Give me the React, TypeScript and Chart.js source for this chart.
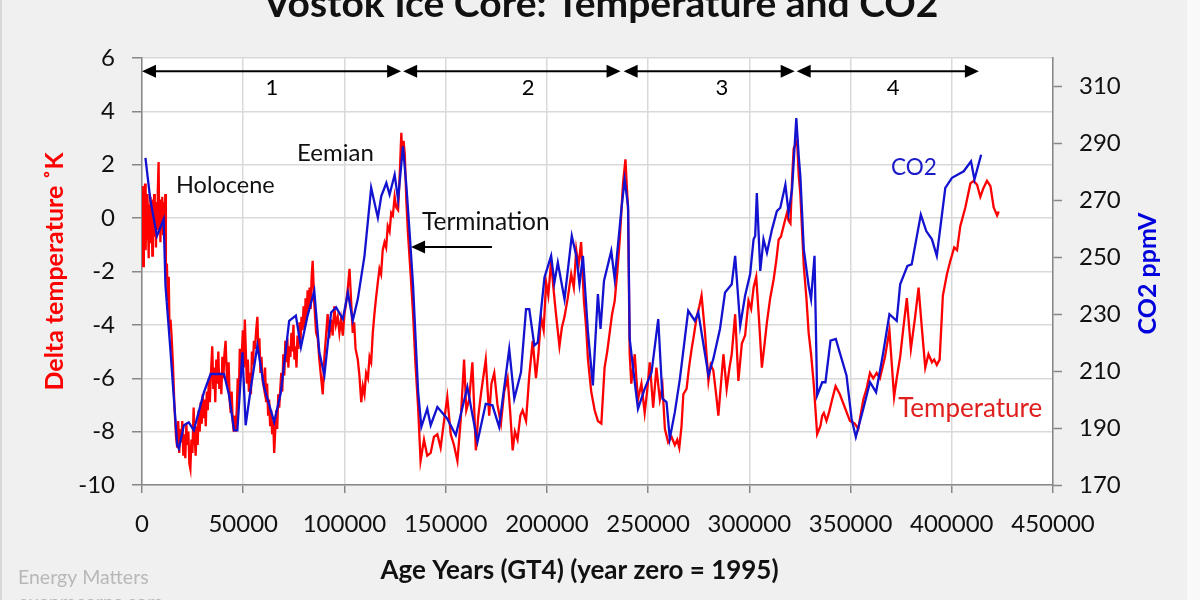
import React, { useEffect, useRef } from "react";
import { Chart, registerables } from "chart.js";

Chart.register(...registerables);

// ---------- text ----------
const chartTitle = "Vostok Ice Core: Temperature and CO2";
const xAxisTitle = "Age Years (GT4) (year zero = 1995)";
const leftAxisTitle = "Delta temperature ˚K";
const rightAxisTitle = "CO2 ppmV";
const watermarkLines = ["Energy Matters", "euanmearns.com"];

// ---------- axes ----------
const xMin = 0;
const xMax = 450000;
const xStep = 50000;
const tempMin = -10;
const tempMax = 6;
const tempStep = 2;
const co2Min = 170;
const co2Max = 320;
const co2TickValues = [170, 190, 210, 230, 250, 270, 290, 310];

// ---------- series: [age years, delta temperature K] ----------
const temperatureSeries: [number, number][] = [
  [0, -0.4], [300, 1.2], [600, -1.8], [900, 0.6], [1200, -0.5], [1500, 1.3], [1800, -1.2], [2100, 0.3],
  [2400, -0.8], [2700, 0.9], [3000, -0.3], [3300, -1.5], [3600, 0.5], [3900, -0.6], [4200, 0.8], [4500, -0.9],
  [4800, 0.2], [5100, -1.4], [5400, 0.7], [5700, -0.2], [6000, 0.9], [6300, -0.7], [6600, 0.4], [6900, -1.1],
  [7200, 0.6], [7500, -0.4], [7800, 1.0], [8200, 2.1], [8500, -0.3], [8800, 0.5], [9100, -0.9], [9400, 0.7],
  [9700, -0.2], [10000, 0.8], [10400, -0.6], [10800, 0.6], [11200, -0.8], [11500, 0.9], [11800, -2.1], [12300, -1.7],
  [12700, -3.1], [13200, -2.2], [13600, -4.2], [14100, -3.8], [14600, -4.4], [15300, -5.5], [16000, -7.0], [16800, -8.2],
  [17400, -8.6], [17900, -7.6], [18400, -8.8], [18900, -7.9], [19400, -8.4], [19900, -7.6], [20400, -8.9], [20900, -8.1],
  [21400, -9.0], [21900, -7.7], [22400, -8.5], [22900, -8.0], [23400, -9.2], [23900, -9.4], [24400, -8.3], [24900, -8.8],
  [25500, -7.1], [26000, -8.2], [26500, -8.9], [27000, -7.8], [27500, -8.5], [28000, -7.2], [28500, -8.0], [29000, -6.9],
  [29500, -7.7], [30000, -6.6], [30500, -7.5], [31000, -6.8], [31500, -7.8], [32000, -6.5], [32500, -7.2], [33000, -6.0],
  [33500, -6.9], [34000, -5.9], [34700, -4.8], [35200, -6.4], [35700, -5.6], [36200, -6.9], [36700, -5.3], [37200, -6.2],
  [37700, -5.0], [38200, -6.4], [38700, -5.8], [39200, -6.6], [39700, -5.2], [40200, -6.0], [40700, -5.1], [41300, -4.6],
  [41800, -5.7], [42300, -6.3], [42800, -5.4], [43300, -6.8], [43800, -7.3], [44300, -6.5], [44800, -7.6], [45300, -8.0],
  [45800, -7.4], [46300, -8.0], [46800, -7.2], [47300, -6.0], [47800, -6.8], [48300, -4.9], [48800, -6.0], [49300, -5.1],
  [49800, -4.2], [50300, -5.6], [50800, -3.8], [51300, -5.0], [51800, -6.2], [52300, -5.3], [52800, -6.5], [53300, -5.8],
  [53800, -6.6], [54300, -5.0], [54800, -5.5], [55300, -4.6], [55800, -4.9], [56400, -4.2], [57000, -3.7], [57500, -5.0],
  [58000, -4.5], [58500, -5.8], [59000, -5.2], [59600, -6.1], [60300, -6.4], [60800, -5.6], [61300, -6.9], [61800, -6.2],
  [62300, -7.4], [62800, -6.8], [63300, -7.8], [63800, -7.2], [64300, -8.1], [64800, -7.6], [65300, -8.8], [65800, -8.0],
  [66300, -7.2], [66800, -7.9], [67300, -6.6], [67800, -7.1], [68300, -6.4], [68800, -5.8], [69300, -6.5], [69800, -5.1],
  [70300, -5.9], [70800, -4.6], [71300, -5.4], [71800, -4.5], [72300, -5.6], [72800, -4.8], [73300, -5.2], [73800, -4.3],
  [74300, -5.0], [74800, -4.0], [75300, -5.3], [75800, -4.8], [76300, -5.6], [76800, -4.4], [77300, -4.9], [77800, -3.9],
  [78300, -4.6], [78800, -3.7], [79300, -4.2], [79800, -3.3], [80300, -4.1], [80800, -3.0], [81300, -3.8], [81800, -2.7],
  [82300, -3.5], [82800, -2.6], [83300, -3.4], [83800, -2.2], [84300, -1.6], [85100, -3.2], [86000, -4.3], [86800, -4.5],
  [87600, -5.3], [88500, -6.0], [89300, -6.6], [90100, -5.2], [90900, -4.4], [91700, -3.6], [92500, -4.5], [93400, -3.8],
  [94200, -4.4], [95000, -3.3], [95800, -4.0], [96700, -3.7], [97500, -4.3], [98300, -3.8], [99200, -4.4], [100000, -3.6],
  [100800, -3.2], [101700, -2.6], [102500, -1.9], [103300, -3.1], [104100, -4.3], [104800, -3.9], [105500, -4.9], [106600, -5.3],
  [107400, -5.9], [108300, -6.9], [109100, -6.3], [109900, -6.6], [110700, -5.8], [111600, -6.0], [112400, -5.2], [113200, -5.4],
  [114000, -4.3], [114800, -3.6], [115600, -3.0], [116500, -2.4], [117300, -1.9], [118100, -2.1], [118900, -1.2], [119800, -0.9],
  [120600, -1.1], [121400, -0.3], [122300, -0.5], [123100, 0.2], [123900, 0.1], [124800, 0.8], [125600, 0.4], [126500, 0.3],
  [127300, 1.6], [128100, 3.2], [128600, 2.2], [129200, 2.9], [129800, 2.4], [130600, 0.6], [131400, -0.6], [132600, -2.0],
  [133900, -3.6], [135100, -5.5], [136400, -7.1], [137600, -9.1], [139300, -8.3], [140900, -8.9], [142600, -8.8], [144200, -8.2],
  [145900, -8.1], [147500, -8.6], [149200, -7.6], [150800, -6.7], [152500, -8.1], [154100, -8.5], [155800, -9.1], [157400, -7.6],
  [159100, -5.3], [160200, -7.2], [161600, -6.8], [163200, -5.4], [164900, -8.7], [166000, -7.5], [167400, -6.6], [169800, -5.3],
  [171500, -7.4], [172600, -6.2], [174000, -5.8], [175600, -7.0], [177300, -7.7], [178900, -6.5], [180600, -6.0], [181900, -7.3],
  [183100, -8.7], [184200, -8.0], [185500, -8.3], [186900, -7.4], [188000, -7.2], [189700, -7.6], [191300, -5.9], [193000, -4.6],
  [194600, -6.0], [195800, -5.1], [197100, -3.7], [198400, -4.2], [199600, -2.4], [200700, -2.9], [202100, -1.6], [203200, -2.6],
  [204500, -3.6], [206200, -4.8], [207400, -4.1], [208700, -3.7], [210300, -3.0], [212000, -2.1], [213300, -2.6], [214500, -1.2],
  [215600, -1.8], [216900, -0.9], [218300, -3.1], [219400, -4.1], [220300, -5.3], [221900, -6.5], [223600, -7.2], [225200, -7.6],
  [226900, -7.7], [228500, -5.6], [229800, -5.0], [231000, -4.3], [232200, -3.6], [233500, -3.1], [234800, -2.0], [236000, -0.8],
  [237600, 1.3], [238800, 2.2], [240100, 0.3], [240900, -5.1], [241700, -6.2], [243400, -5.1], [244200, -6.0], [245000, -6.8],
  [246700, -6.2], [248300, -7.3], [249500, -6.5], [250800, -5.4], [252500, -7.1], [254100, -5.6], [255800, -6.8], [257100, -6.3],
  [258300, -7.9], [259900, -8.4], [261600, -8.2], [263200, -8.5], [264400, -8.3], [265400, -8.6], [266500, -7.8], [267400, -6.6],
  [269000, -6.4], [270200, -5.6], [271500, -4.9], [272600, -4.4], [274000, -3.7], [275300, -3.3], [276400, -2.9], [278100, -4.3],
  [279800, -6.1], [280900, -5.5], [282200, -5.7], [283600, -6.6], [284700, -7.4], [286000, -6.2], [287200, -5.1], [288800, -6.4],
  [290200, -5.6], [291300, -5.1], [293000, -3.6], [294600, -6.1], [296300, -4.7], [297900, -4.4], [299600, -3.1], [300900, -3.4],
  [302100, -2.6], [303400, -2.2], [304700, -3.7], [306200, -5.6], [307400, -4.8], [308700, -3.9], [310300, -3.0], [312000, -2.3],
  [313300, -1.6], [314500, -0.8], [315600, -0.7], [316900, -0.3], [318600, 0.2], [319400, -0.1], [320300, -0.2], [321100, 1.4],
  [321900, 2.6], [323600, 2.9], [324400, 1.6], [325200, 0.9], [326900, -1.8], [328200, -3.0], [329300, -4.3], [330500, -5.1],
  [331800, -6.2], [333500, -8.1], [335100, -7.8], [336000, -7.4], [336800, -7.3], [338100, -7.6], [339300, -7.3], [340900, -6.8],
  [342600, -6.3], [344700, -6.6], [347200, -7.1], [349700, -7.6], [352100, -7.7], [353800, -7.9], [356300, -6.8], [357900, -6.4],
  [359600, -5.8], [361200, -6.0], [362900, -5.8], [364500, -6.0], [367000, -5.2], [369200, -4.2], [371500, -6.7], [372800, -6.0],
  [374500, -5.2], [376100, -4.1], [377800, -3.0], [379800, -4.9], [381900, -3.7], [383600, -2.6], [385200, -4.1], [386900, -5.6],
  [388500, -5.1], [390200, -5.4], [391300, -5.3], [392600, -5.5], [394000, -5.3], [395600, -2.9], [397600, -2.1], [399300, -1.6],
  [401200, -1.1], [402600, -1.2], [404200, -0.3], [406700, 0.4], [409200, 1.3], [410800, 1.4], [412500, 1.25], [414100, 0.8],
  [415500, 1.1], [417400, 1.4], [419100, 1.2], [420700, 0.4], [422400, 0.1], [423200, 0.25],
];

// ---------- series: [age years, CO2 ppmV] ----------
const co2Series: [number, number][] = [
  [1700, 284.9], [4100, 270.3], [7400, 257.5], [10700, 263.3], [11600, 240], [14000, 217.8], [17400, 184], [18200, 182.8],
  [20700, 191], [23100, 192], [25600, 189.2], [30600, 202.6], [33900, 209], [40500, 209], [43000, 201.5], [45500, 189.2],
  [47100, 189.2], [49600, 216.6], [51200, 191], [53700, 203.8], [57000, 219], [60300, 204.4], [65300, 192.1], [68600, 202.6],
  [72700, 227.7], [76000, 229.5], [78500, 218.4], [81800, 229.5], [85100, 238.2], [87600, 216.6], [90100, 208.5], [93400, 230.6],
  [95900, 232.4], [99200, 228.3], [101700, 237.6], [104100, 227.7], [106600, 235.3], [109900, 250.5], [113200, 274.4], [116500, 263.9],
  [118200, 271.5], [120700, 276.1], [122300, 272], [124800, 279], [126500, 270.3], [128900, 289], [130600, 275], [132200, 258.6],
  [133900, 240], [136400, 202.6], [138000, 190.4], [140900, 196.8], [142600, 191], [145900, 197.4], [150800, 193.3], [155000, 187.5],
  [160700, 204.4], [165700, 185.1], [169800, 198.5], [173100, 198], [176400, 190.4], [181400, 217.8], [183900, 200.3], [187200, 209.6],
  [189700, 231.8], [191300, 231.8], [193800, 219], [195500, 220.1], [198800, 242.9], [202100, 250.5], [203700, 241.1], [205400, 248.1],
  [208700, 235.3], [212300, 257.5], [214500, 250.5], [216100, 240.5], [217800, 250.5], [220300, 223.6], [222700, 205], [225200, 237.1],
  [226500, 224.8], [228200, 241.7], [231800, 252.2], [233500, 242.3], [236800, 266.8], [238400, 277.3], [240100, 268], [240900, 221.3],
  [243400, 206.1], [245000, 196.8], [248300, 203.8], [251700, 209.6], [255000, 228.3], [257100, 200.3], [259100, 199.1], [260700, 186.3],
  [263200, 195.6], [265700, 207.3], [269800, 231.2], [273100, 227.7], [274800, 230.6], [279800, 208.5], [282200, 214.3], [285500, 224.8],
  [288000, 237.6], [291300, 240.5], [293000, 250.5], [295500, 226], [297900, 236.5], [300400, 244.1], [302100, 256.3], [302900, 257.5],
  [303700, 272.6], [305400, 245.2], [307000, 256.3], [308700, 251.6], [311200, 259.8], [313600, 266.2], [315300, 267.4], [317800, 275.5],
  [319400, 265.6], [321100, 273.8], [323200, 298.9], [324400, 285.5], [325200, 278.5], [326900, 252.8], [329300, 240], [330500, 235.3],
  [332200, 250.5], [333500, 201.5], [336000, 206.1], [337600, 206.1], [340100, 220.7], [342700, 221.3], [348000, 208.5], [350500, 193.3],
  [352600, 186.9], [356300, 196.8], [359600, 206.1], [362600, 202.6], [365900, 215.5], [369200, 230], [372800, 227.7], [374500, 240.5],
  [378100, 247], [380200, 247.5], [384700, 265], [387400, 259.2], [390200, 256.3], [392600, 250.5], [396800, 274.4], [400100, 277.9],
  [405900, 280.2], [409500, 283.7], [411200, 277.3], [414500, 286],
];

// ---------- annotations (data units) ----------
const periodNames = ["1", "2", "3", "4"];
const periodStartYears = [0, 129000, 237900, 323400];
const periodEndYears = [128000, 236400, 322400, 413400];
const periodLabelYears = [64200, 190700, 286500, 371000];
const periodArrowTemp = 5.5;
const periodLabelTemp = 4.88;

const noteTexts = ["Holocene", "Eemian", "Termination", "CO2", "Temperature"];
const noteYears = [16800, 76600, 138300, 370000, 373500];
const noteTemps = [1.24, 2.44, -0.14, 1.88, -7.15];
const terminationArrowYears = [172900, 132900];
const terminationArrowTemp = -1.08;

// ---------- styles ----------
const FONT = "Lato, 'Open Sans', sans-serif";
const RED = "#ff0000";
const BLUE = "#1212d0";
const TEXT = "#111111";
const AXIS_GREY = "#878787";
const GRID_GREY = "#d9d9d9";
const noteColors = [TEXT, TEXT, TEXT, "#1a1ac8", "#e0201e"];
const noteSizes = [23.5, 24, 24.5, 22.5, 26];

function arrowHead(ctx: CanvasRenderingContext2D, x: number, y: number, dir: number) {
  ctx.beginPath();
  ctx.moveTo(x, y);
  ctx.lineTo(x - dir * 14, y - 6.5);
  ctx.lineTo(x - dir * 14, y + 6.5);
  ctx.closePath();
  ctx.fill();
}

const decorPlugin = {
  id: "decor",
  beforeDraw(chart: any) {
    const { ctx, chartArea: a, width, height } = chart;
    ctx.save();
    ctx.fillStyle = "#f0f0f0";
    ctx.fillRect(0, 0, width, height);
    ctx.fillStyle = "#d8d8d8";
    ctx.fillRect(0, 0, 2, height);
    ctx.fillStyle = "#f9f9f9";
    ctx.fillRect(width - 13, 0, 13, height);
    ctx.fillStyle = "#ffffff";
    ctx.fillRect(a.left, a.top, a.right - a.left, a.bottom - a.top);
    ctx.restore();
  },
  afterDraw(chart: any) {
    const { ctx, width } = chart;
    const xs = chart.scales.x;
    const ys = chart.scales.y;
    const y2 = chart.scales.y2;
    ctx.save();

    // title
    ctx.fillStyle = TEXT;
    ctx.font = `bold 39px ${FONT}`;
    ctx.textAlign = "center";
    ctx.textBaseline = "alphabetic";
    ctx.fillText(chartTitle, width / 2 + 1, 17);

    // x axis title
    ctx.font = `bold 26px ${FONT}`;
    ctx.textBaseline = "middle";
    ctx.fillText(xAxisTitle, (xs.left + xs.right) / 2 - 18, 571);

    // period arrows
    ctx.strokeStyle = "#000";
    ctx.fillStyle = "#000";
    ctx.lineWidth = 2;
    const ay = ys.getPixelForValue(periodArrowTemp);
    periodStartYears.forEach((s, i) => {
      const x0 = xs.getPixelForValue(s);
      const x1 = xs.getPixelForValue(periodEndYears[i]);
      ctx.beginPath();
      ctx.moveTo(x0 + 8, ay);
      ctx.lineTo(x1 - 8, ay);
      ctx.stroke();
      arrowHead(ctx, x0, ay, -1);
      arrowHead(ctx, x1, ay, 1);
    });
    ctx.font = `22px ${FONT}`;
    ctx.textAlign = "center";
    ctx.textBaseline = "middle";
    periodNames.forEach((n, i) => {
      ctx.fillText(n, xs.getPixelForValue(periodLabelYears[i]), ys.getPixelForValue(periodLabelTemp));
    });

    // notes
    ctx.textAlign = "left";
    noteTexts.forEach((t, i) => {
      ctx.fillStyle = noteColors[i];
      ctx.font = `${noteSizes[i]}px ${FONT}`;
      ctx.fillText(t, xs.getPixelForValue(noteYears[i]), ys.getPixelForValue(noteTemps[i]));
    });

    // termination arrow
    const ty = ys.getPixelForValue(terminationArrowTemp);
    const tx0 = xs.getPixelForValue(terminationArrowYears[0]);
    const tx1 = xs.getPixelForValue(terminationArrowYears[1]);
    ctx.fillStyle = "#000";
    ctx.beginPath();
    ctx.moveTo(tx0, ty);
    ctx.lineTo(tx1 + 8, ty);
    ctx.stroke();
    arrowHead(ctx, tx1, ty, -1);

    // right axis title
    ctx.save();
    ctx.translate(y2.right - 52, (ys.top + ys.bottom) / 2 + 2);
    ctx.rotate(-Math.PI / 2);
    ctx.fillStyle = "#0000dd";
    ctx.font = `bold 25px ${FONT}`;
    ctx.textAlign = "center";
    ctx.textBaseline = "middle";
    ctx.fillText(rightAxisTitle, 0, 0);
    ctx.restore();

    // watermark
    ctx.fillStyle = "#b8b8b8";
    ctx.font = `19.5px ${FONT}`;
    ctx.textAlign = "left";
    ctx.textBaseline = "middle";
    ctx.fillText(watermarkLines[0], 18, 578);
    ctx.textBaseline = "top";
    ctx.fillText(watermarkLines[1], 18, 593);

    ctx.restore();
  },
};

const tickFont = { family: FONT, size: 24 };

export default function App() {
  const ref = useRef<HTMLCanvasElement>(null);
  useEffect(() => {
    if (!ref.current) return;
    const chart = new Chart(ref.current, {
      type: "line",
      data: {
        datasets: [
          {
            label: "CO2",
            data: co2Series.map(([x, y]) => ({ x, y })),
            yAxisID: "y2",
            borderColor: BLUE,
            borderWidth: 2.3,
            pointRadius: 0,
            tension: 0,
            order: 0,
          },
          {
            label: "Temperature",
            data: temperatureSeries.map(([x, y]) => ({ x, y })),
            yAxisID: "y",
            borderColor: RED,
            borderWidth: 2.3,
            pointRadius: 0,
            tension: 0,
            order: 1,
          },
        ],
      },
      options: {
        animation: false,
        responsive: false,
        layout: { padding: { top: 58, left: 0, right: 0, bottom: 0 } },
        plugins: { legend: { display: false }, tooltip: { enabled: false }, title: { display: false } },
        scales: {
          x: {
            type: "linear",
            position: "bottom",
            min: xMin,
            max: xMax,
            ticks: {
              stepSize: xStep,
              autoSkip: false,
              maxRotation: 0,
              padding: 17,
              color: TEXT,
              font: tickFont,
              callback: (v: any) => String(v),
            },
            grid: { color: GRID_GREY, lineWidth: 1.5, tickLength: 8, tickColor: AXIS_GREY, tickWidth: 1.5 },
            border: { color: AXIS_GREY, width: 1.5 },
            title: { display: false },
            afterFit: (s: any) => {
              s.height = 115;
            },
          },
          y: {
            position: "left",
            min: tempMin,
            max: tempMax,
            ticks: { stepSize: tempStep, padding: 17, color: TEXT, font: tickFont },
            grid: { color: GRID_GREY, lineWidth: 1.5, tickLength: 10, tickColor: AXIS_GREY, tickWidth: 1.5 },
            border: { color: AXIS_GREY, width: 1.5 },
            title: {
              display: true,
              text: leftAxisTitle,
              color: RED,
              font: { family: FONT, size: 25, weight: "bold" },
              padding: { top: 40, bottom: 0 },
            },
            afterFit: (s: any) => {
              s.width = 142;
            },
          },
          y2: {
            position: "right",
            min: co2Min,
            max: co2Max,
            afterBuildTicks: (s: any) => {
              s.ticks = co2TickValues.map((v) => ({ value: v }));
            },
            ticks: { padding: 17, color: TEXT, font: tickFont },
            grid: { drawOnChartArea: false, tickLength: 9, tickColor: AXIS_GREY, tickWidth: 1.5 },
            border: { color: AXIS_GREY, width: 1.5 },
            afterFit: (s: any) => {
              s.width = 147;
            },
          },
        },
      } as any,
      plugins: [decorPlugin],
    });
    return () => chart.destroy();
  }, []);
  return (
    <div style={{ position: "absolute", left: 0, top: 0, width: 1200, height: 600 }}>
      <canvas ref={ref} width={1200} height={600} style={{ display: "block" }} />
    </div>
  );
}
